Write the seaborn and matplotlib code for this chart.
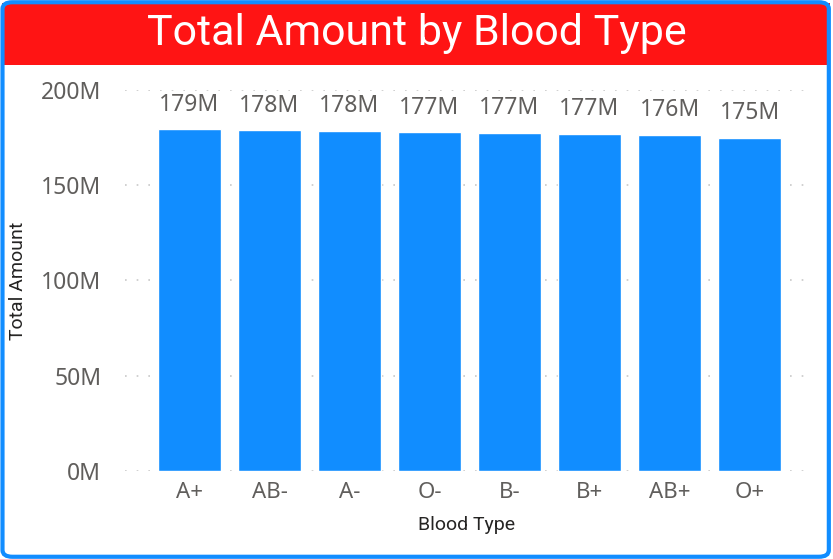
import matplotlib
matplotlib.use("Agg")
import matplotlib.pyplot as plt
import seaborn as sns
import pandas as pd
from matplotlib.patches import FancyBboxPatch, Rectangle

blood_types = ["A+", "AB-", "A-", "O-", "B-", "B+", "AB+", "O+"]
amounts_m = [179.2, 178.7, 178.5, 177.7, 177.4, 177.0, 176.4, 174.9]
label_texts = ["179M", "178M", "178M", "177M", "177M", "177M", "176M", "175M"]
y_ticks = [0, 50, 100, 150, 200]
y_tick_labels = ["0M", "50M", "100M", "150M", "200M"]

df = pd.DataFrame({"Blood Type": blood_types, "Total Amount": amounts_m})

sns.set_theme(style="white")
plt.rcParams["font.family"] = ["Noto Sans", "DejaVu Sans"]

fig = plt.figure(figsize=(8.33, 5.59), dpi=100)
ax = fig.add_axes([0.150, 0.1574, 0.819, 0.682])

sns.barplot(data=df, x="Blood Type", y="Total Amount", order=blood_types,
            color="#118DFF", saturation=1, width=0.79, ax=ax)

ax.set_ylim(0, 200)
ax.set_xlim(-0.806, 7.72)
ax.set_yticks(y_ticks)
ax.set_yticklabels(y_tick_labels)
ax.tick_params(axis="y", length=0, pad=17, labelsize=16.5, labelcolor="#605E5C")
ax.tick_params(axis="x", length=0, pad=8, labelsize=16, labelcolor="#605E5C")
ax.yaxis.grid(True, color="#C8C8C8", linestyle=(0, (1, 6)), linewidth=1.2)
ax.set_axisbelow(True)
for s in ax.spines.values():
    s.set_visible(False)

ax.set_xlabel("Blood Type", fontsize=14, color="#252423", labelpad=9,
              family=["Roboto", "DejaVu Sans"], fontweight="normal")
ax.set_ylabel("Total Amount", fontsize=14, color="#252423", labelpad=10,
              family=["Roboto", "DejaVu Sans"], fontweight="normal")

for cont in ax.containers:
    ax.bar_label(cont, labels=label_texts, padding=9, fontsize=16.5,
                 color="#605E5C", clip_on=False)

# title bar
fig.patches.append(Rectangle((0.002, 1 - 65 / 559), 0.994, 62 / 559,
                             transform=fig.transFigure, facecolor="#FF1414",
                             edgecolor="none", zorder=0))
fig.text(0.5, 1 - 34 / 559, "Total Amount by Blood Type", ha="center", va="center",
         fontsize=31, color="white", family=["Roboto", "DejaVu Sans"])

# border
fig.patches.append(FancyBboxPatch((0.003, 0.004), 0.992, 0.992,
                                  boxstyle="round,pad=0,rounding_size=0.012",
                                  transform=fig.transFigure, facecolor="none",
                                  edgecolor="#118DFF", linewidth=3, zorder=5))

fig.savefig("out.png", dpi=100)
